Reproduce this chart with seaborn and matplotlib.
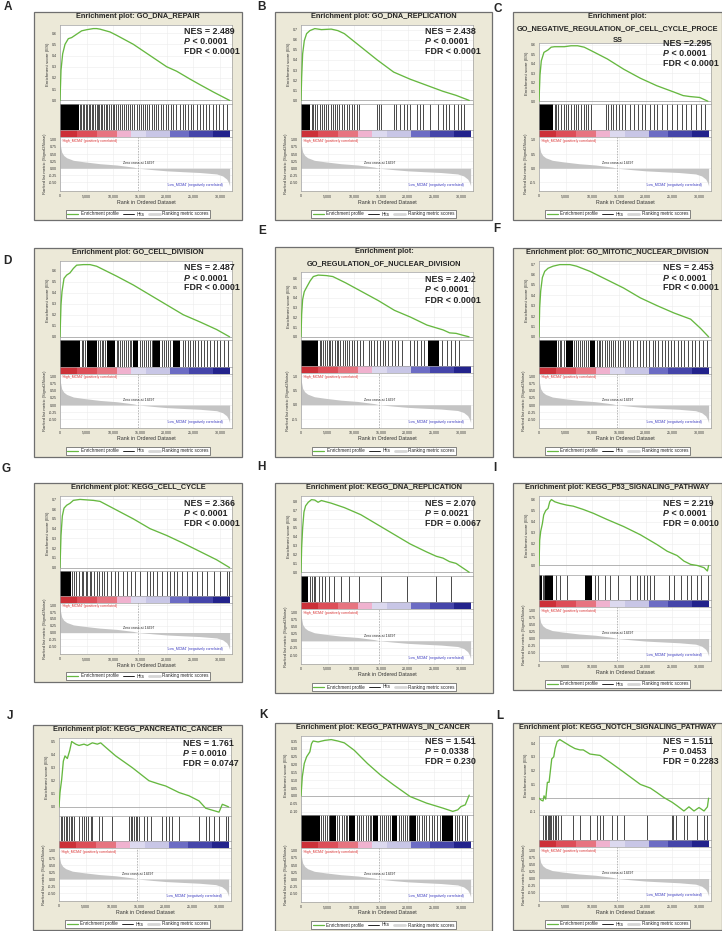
import numpy as np
import pandas as pd
import matplotlib
matplotlib.use("Agg")
import matplotlib.pyplot as plt
import seaborn as sns
from matplotlib.patches import Rectangle
from matplotlib.lines import Line2D

sns.set_style("white")
plt.rcParams["font.family"] = ["Liberation Sans", "DejaVu Sans"]

FW, FH = 722, 931
N_GENES = 31800
ZERO_CROSS = 14697
GENE = "MCM4"

# ranked list metric (shared by all panels)
metric_rank = [0, 80, 310, 700, 1250, 2500, 4375, 7500, 10625, 13750, 14697, 17500, 20000,
               23000, 26250, 29375, 30500, 31250, 31600, 31800]
metric_value = [1.0, 0.8, 0.57, 0.45, 0.37, 0.28, 0.23, 0.16, 0.115, 0.04, 0.0, -0.05, -0.09,
                -0.12, -0.15, -0.2, -0.27, -0.38, -0.5, -0.62]

x_ticks = [0, 5000, 10000, 15000, 20000, 25000, 30000]
x_tick_labels = ["0", "5,000", "10,000", "15,000", "20,000", "25,000", "30,000"]
legend_labels = ["Enrichment profile", "Hits", "Ranking metric scores"]

# ---------------- panel data ----------------
A_title = "Enrichment plot: GO_DNA_REPAIR"
A_nes, A_p, A_fdr = "NES = 2.489", "< 0.0001", "FDR < 0.0001"
A_es_rank = [0, 190, 500, 940, 1560, 2190, 3125, 4060, 5000, 6250, 6875, 7500, 9375, 10625, 13750,
             16875, 20000, 21875, 24375, 26250, 28750, 31800]
A_es = [0, 0.27, 0.415, 0.50, 0.55, 0.56, 0.59, 0.62, 0.63, 0.64, 0.64, 0.635, 0.61, 0.58, 0.50,
        0.40, 0.30, 0.26, 0.19, 0.14, 0.075, 0.0]
A_dense = [(0, 3500)]
A_hits = [3750, 3950, 4250, 4500, 4900, 5150, 5400, 5650, 5950, 6250, 6550, 6900, 7050, 7400, 7650,
          7900, 8250, 8650, 8900, 9250, 9550, 9900, 10200, 10500, 10950, 11250, 11650, 12000, 12400,
          12800, 13150, 13500, 13900, 14400, 14750, 15150, 15500, 16000, 16400, 16750, 17200, 17650,
          18000, 18450, 18900, 19400, 19800, 20300, 20750, 21250, 21750, 22500, 23000, 23450, 24050,
          24500, 25000, 25650, 26250, 26900, 27400, 28000, 28750, 29250, 29900, 30500, 31400]

B_title = "Enrichment plot: GO_DNA_REPLICATION"
B_nes, B_p, B_fdr = "NES = 2.438", "< 0.0001", "FDR < 0.0001"
B_es_rank = [0, 123, 308, 616, 1047, 1663, 2587, 3819, 5667, 6900, 8131, 11211, 14291, 17371, 20451,
             23531, 26611, 29075, 31539]
B_es = [0, 0.23, 0.46, 0.59, 0.66, 0.69, 0.71, 0.70, 0.705, 0.69, 0.66, 0.53, 0.40, 0.28, 0.21,
        0.15, 0.09, 0.05, 0.0]
B_dense = [(0, 1700)]
B_hits = [1970, 2280, 2710, 3080, 3510, 3940, 4310, 4740, 5050, 5540, 5980, 6410, 6780, 7210, 7640,
          8130, 8620, 9060, 9490, 9980, 10470, 10900, 14290, 14600, 15030, 17370, 17860, 18600, 19220,
          19840, 20450, 21680, 22300, 22920, 24150, 25690, 26610, 27230, 27840, 28770, 29380, 30000,
          30620]

C_title = "Enrichment plot:\nGO_NEGATIVE_REGULATION_OF_CELL_CYCLE_PROCE\nSS"
C_nes, C_p, C_fdr = "NES =2.295", "< 0.0001", "FDR < 0.0001"
C_es_rank = [0, 186, 433, 928, 1670, 2289, 2907, 4763, 6000, 7237, 8475, 9712, 12805, 15898, 18991,
             22084, 25177, 27033, 28270, 30126, 31672]
C_es = [0, 0.28, 0.43, 0.52, 0.545, 0.575, 0.58, 0.58, 0.59, 0.59, 0.575, 0.54, 0.45, 0.34, 0.245,
        0.165, 0.10, 0.06, 0.05, 0.04, 0.0]
C_dense = [(0, 2600)]
C_hits = [2910, 3280, 3650, 4140, 4640, 5070, 5510, 6000, 6500, 6930, 7360, 7860, 8350, 8780, 9220,
          9710, 12500, 12930, 13420, 13920, 14350, 14970, 15590, 16210, 17140, 17750, 18500, 19300,
          19920, 20720, 21470, 22080, 23010, 23940, 24870, 25800, 26720, 27650, 28580, 29510, 30440,
          31050]

D_title = "Enrichment plot: GO_CELL_DIVISION"
D_nes, D_p, D_fdr = "NES = 2.487", "< 0.0001", "FDR < 0.0001"
D_es_rank = [0, 188, 375, 750, 1250, 1875, 2500, 3125, 4375, 5625, 6875, 8125, 10625, 13750, 16875,
             20000, 23125, 26250, 29375, 31800]
D_es = [0, 0.29, 0.41, 0.53, 0.56, 0.58, 0.62, 0.65, 0.655, 0.655, 0.64, 0.61, 0.55, 0.47, 0.38,
        0.29, 0.20, 0.135, 0.066, 0.0]
D_dense = [(0, 3750), (5000, 6900), (8750, 10300), (13750, 14700), (17500, 18800), (21250, 22500)]
D_hits = [4100, 4400, 4700, 7200, 7500, 7800, 8100, 8400, 10600, 10900, 11250, 11600, 12000, 12300,
          12700, 13100, 13400, 15000, 15400, 15800, 16100, 16500, 16900, 17200, 19100, 19500, 19900,
          20300, 20700, 23000, 23500, 24000, 24400, 24900, 25400, 25900, 26500, 27000, 27600, 28100,
          28800, 29400, 30000, 30700, 31500]

E_title = "Enrichment plot:\nGO_REGULATION_OF_NUCLEAR_DIVISION"
E_nes, E_p, E_fdr = "NES = 2.402", "< 0.0001", "FDR < 0.0001"
E_es_rank = [0, 122, 304, 609, 1095, 1704, 2312, 3225, 4746, 5963, 8397, 11440, 14482, 17525, 20567,
             23610, 26652, 27869, 29086, 30400, 31500]
E_es = [0, 0.23, 0.38, 0.46, 0.51, 0.57, 0.615, 0.63, 0.625, 0.615, 0.55, 0.46, 0.37, 0.27, 0.20,
        0.12, 0.07, 0.04, 0.035, 0.015, 0.0]
E_dense = [(0, 3200), (23900, 25800)]
E_hits = [3500, 3800, 4100, 4500, 4800, 5200, 5500, 5900, 6300, 6700, 7000, 7400, 7800, 8200, 8600,
          9000, 9500, 10000, 10500, 11000, 11600, 12700, 13200, 13700, 14200, 14800, 15300, 15800,
          16400, 17000, 17600, 18200, 19000, 20500, 21200, 21800, 22500, 23100, 26500, 27400, 28200,
          28900, 29600]

F_title = "Enrichment plot: GO_MITOTIC_NUCLEAR_DIVISION"
F_nes, F_p, F_fdr = "NES = 2.453", "< 0.0001", "FDR < 0.0001"
F_es_rank = [0, 126, 315, 629, 1069, 1698, 2642, 3900, 5787, 7045, 9561, 12706, 15851, 18996, 22141,
             25286, 28431, 30318, 31800]
F_es = [0, 0.28, 0.44, 0.57, 0.63, 0.66, 0.68, 0.695, 0.695, 0.68, 0.63, 0.55, 0.47, 0.375, 0.30,
        0.23, 0.17, 0.08, 0.0]
F_dense = [(0, 3300), (5000, 6300), (9500, 10500)]
F_hits = [3600, 3900, 4200, 4600, 6600, 7000, 7300, 7700, 8100, 8500, 8900, 9200, 10800, 11200,
          11500, 11900, 12300, 12700, 13100, 13500, 13900, 14300, 14800, 15200, 15700, 16100, 16600,
          17100, 17700, 18300, 18900, 19500, 20100, 20700, 21300, 21800, 22400, 23000, 23600, 24200,
          24800, 25400, 26000, 26600, 27200, 27900, 28600, 29300, 30000, 30700, 31500]

G_title = "Enrichment plot: KEGG_CELL_CYCLE"
G_nes, G_p, G_fdr = "NES = 2.366", "< 0.0001", "FDR < 0.0001"
G_es_rank = [0, 188, 438, 750, 1250, 1875, 2500, 3750, 5000, 6250, 7500, 10625, 13750, 16875, 20000,
             23125, 26250, 29375, 31800]
G_es = [0, 0.33, 0.53, 0.61, 0.64, 0.66, 0.69, 0.70, 0.695, 0.69, 0.68, 0.59, 0.50, 0.40, 0.33,
        0.25, 0.165, 0.08, 0.0]
G_dense = [(0, 2000)]
G_hits = [2300, 2600, 3000, 3600, 4100, 4400, 4900, 5100, 5600, 5900, 6400, 6900, 7400, 7800, 8300,
          8900, 9500, 10300, 10900, 11800, 12500, 13400, 14100, 15000, 16300, 16900, 17400, 18100,
          19100, 20000, 20600, 21300, 21900, 22800, 23800, 24700, 25600, 26600, 27500, 28800, 30000,
          31300, 31700]

H_title = "Enrichment plot: KEGG_DNA_REPLICATION"
H_nes, H_p, H_fdr = "NES = 2.070", "= 0.0021", "FDR = 0.0067"
H_es_rank = [0, 123, 308, 554, 862, 1355, 1971, 2587, 3203, 3819, 4435, 5667, 8131, 11211, 14291,
             17371, 20451, 23531, 25379, 26611, 27843, 29075, 31539]
H_es = [0, 0.28, 0.50, 0.68, 0.75, 0.79, 0.82, 0.815, 0.79, 0.81, 0.80, 0.78, 0.73, 0.65, 0.54,
        0.43, 0.32, 0.23, 0.18, 0.16, 0.12, 0.10, 0.0]
H_dense = [(0, 1400)]
H_hits = [1725, 2156, 2400, 2710, 3326, 3942, 4435, 5174, 6160, 7515, 9055, 10903, 14907, 19835,
          25379, 28151]

I_title = "Enrichment plot: KEGG_P53_SIGNALING_PATHWAY"
I_nes, I_p, I_fdr = "NES = 2.219", "< 0.0001", "FDR = 0.0010"
I_es_rank = [0, 126, 315, 629, 881, 1258, 1698, 2013, 2327, 2956, 3900, 5158, 6416, 8303, 10190,
             12706, 15851, 18996, 22141, 24028, 25915, 27178, 28431, 29689, 30947, 31576, 31800]
I_es = [0, 0.23, 0.31, 0.38, 0.46, 0.50, 0.52, 0.58, 0.60, 0.58, 0.565, 0.55, 0.54, 0.51, 0.475,
        0.42, 0.355, 0.28, 0.19, 0.13, 0.09, 0.04, 0.01, 0.0, -0.02, -0.05, 0.0]
I_dense = [(0, 600), (1200, 2600), (8600, 9900)]
I_hits = [800, 1000, 3270, 3900, 5160, 10500, 11130, 12390, 13330, 14900, 17110, 18370, 19000,
          19620, 20250, 20880, 21510, 24340, 25290, 26540, 27800, 28430, 29690, 30320, 31700]

J_title = "Enrichment plot: KEGG_PANCREATIC_CANCER"
J_nes, J_p, J_fdr = "NES = 1.761", "= 0.0010", "FDR = 0.0747"
J_es_rank = [0, 188, 500, 813, 1125, 1563, 2000, 2375, 3125, 3750, 4688, 5313, 6250, 7188, 7813,
             8750, 10625, 13750, 16875, 18750, 20000, 22500, 24375, 26250, 27500, 28750, 30000,
             30625, 31250, 31800]
J_es = [0, 0.11, 0.21, 0.35, 0.39, 0.37, 0.43, 0.50, 0.48, 0.47, 0.48, 0.47, 0.49, 0.48, 0.49,
        0.456, 0.39, 0.30, 0.20, 0.175, 0.16, 0.11, 0.085, 0.046, -0.01, -0.025, -0.04, 0.02, 0.01,
        0.0]
J_dense = []
J_hits = [310, 630, 940, 1250, 1500, 1880, 2190, 2500, 2800, 3750, 4380, 4690, 5130, 5500, 5940,
          6250, 7500, 8130, 10000, 13130, 13440, 13750, 14060, 14380, 14690, 15000, 15940, 16560,
          17190, 19380, 20000, 20630, 21250, 22500, 26250, 27500, 28130, 29060, 30000, 31250, 31700]

K_title = "Enrichment plot: KEGG_PATHWAYS_IN_CANCER"
K_nes, K_p, K_fdr = "NES = 1.541", "= 0.0338", "FDR = 0.230"
K_es_rank = [0, 246, 616, 1047, 1663, 1971, 2279, 3203, 4435, 5667, 6900, 8131, 9979, 12443, 14907,
             17371, 20451, 23531, 26611, 28459, 29383, 29999, 30800, 31539]
K_es = [0, 0.122, 0.207, 0.249, 0.281, 0.333, 0.35, 0.344, 0.354, 0.359, 0.35, 0.338, 0.291, 0.207,
        0.133, 0.07, -0.004, -0.046, -0.078, -0.099, -0.089, -0.068, -0.057, 0.005]
K_dense = [(0, 3500), (5500, 6500), (9000, 10200), (13500, 14500), (17000, 18000), (20500, 21500),
           (26500, 28500)]
K_hits = [3800, 4100, 4500, 4900, 5200, 6800, 7200, 7600, 8000, 8400, 8700, 10500, 10900, 11300,
          11700, 12100, 12500, 12900, 13200, 14800, 15200, 15600, 16000, 16400, 16700, 18300, 18700,
          19100, 19500, 19900, 20200, 21800, 22200, 22700, 23100, 23500, 24000, 24500, 25000, 25500,
          26000, 28800, 29200, 29700, 30200, 30700, 31200]

L_title = "Enrichment plot: KEGG_NOTCH_SIGNALING_PATHWAY"
L_nes, L_p, L_fdr = "NES = 1.511", "= 0.0453", "FDR = 0.2283"
L_es_rank = [0, 440, 755, 944, 1258, 1573, 1887, 2139, 2390, 2768, 3019, 3397, 3900, 4529, 5787,
             6730, 7674, 8303, 9561, 11448, 13335, 15851, 18996, 20883, 22141, 23399, 24971, 25915,
             27173, 28116, 29060, 30003, 30947, 31576, 31800]
L_es = [0, -0.015, -0.02, 0.017, -0.007, 0.115, 0.115, 0.2, 0.285, 0.30, 0.36, 0.41, 0.425, 0.41,
        0.38, 0.36, 0.35, 0.35, 0.32, 0.31, 0.26, 0.19, 0.10, 0.073, 0.04, 0.005, -0.03, -0.056,
        -0.093, -0.063, -0.093, -0.068, -0.093, -0.063, 0.0]
L_dense = []
L_hits = [755, 1070, 1380, 1700, 1890, 2140, 2330, 2640, 2960, 3270, 3590, 4210, 6420, 7670, 9560,
          10820, 11450, 12080, 13650, 14590, 15850, 20250, 24970, 25160, 25600, 27170, 27800, 29690,
          30950, 31580]

# ---------------- styling / layout ----------------
BEIGE = "#ECE9D8"
GREEN = "#66B840"
CB_EDGES = [0, 3100, 6900, 10600, 13400, 16200, 20600, 24100, 28700, N_GENES]
CB_COLORS = ["#cc3038", "#dd4e58", "#e77480", "#f0b2cf", "#dcd9ef", "#c8c6e6", "#6c6cc4",
             "#4545aa", "#23238c"]
XMAX = 32250

panels = [
    dict(letter="A", lpos=(8, 7), box=(34, 12, 208, 208), title=A_title, stats=(A_nes, A_p, A_fdr),
         es_rank=A_es_rank, es=A_es, hits=A_hits, dense=A_dense, es_step=0.1, rk_step=0.25, nes_y=19),
    dict(letter="B", lpos=(261, 7), box=(275, 12, 217, 208), title=B_title, stats=(B_nes, B_p, B_fdr),
         es_rank=B_es_rank, es=B_es, hits=B_hits, dense=B_dense, es_step=0.1, rk_step=0.25, nes_y=19),
    dict(letter="C", lpos=(498, 9), box=(513, 12, 209, 208), title=C_title, stats=(C_nes, C_p, C_fdr),
         es_rank=C_es_rank, es=C_es, hits=C_hits, dense=C_dense, es_step=0.1, rk_step=0.5, nes_y=32),
    dict(letter="D", lpos=(7, 261), box=(34, 248, 208, 209), title=D_title, stats=(D_nes, D_p, D_fdr),
         es_rank=D_es_rank, es=D_es, hits=D_hits, dense=D_dense, es_step=0.1, rk_step=0.25, nes_y=20),
    dict(letter="E", lpos=(262, 231), box=(275, 247, 218, 210), title=E_title, stats=(E_nes, E_p, E_fdr),
         es_rank=E_es_rank, es=E_es, hits=E_hits, dense=E_dense, es_step=0.1, rk_step=0.5, nes_y=33),
    dict(letter="F", lpos=(497, 229), box=(513, 248, 209, 209), title=F_title, stats=(F_nes, F_p, F_fdr),
         es_rank=F_es_rank, es=F_es, hits=F_hits, dense=F_dense, es_step=0.1, rk_step=0.25, nes_y=20),
    dict(letter="G", lpos=(6, 469), box=(34, 483, 208, 199), title=G_title, stats=(G_nes, G_p, G_fdr),
         es_rank=G_es_rank, es=G_es, hits=G_hits, dense=G_dense, es_step=0.1, rk_step=0.25, nes_y=20),
    dict(letter="H", lpos=(261, 467), box=(275, 483, 218, 210), title=H_title, stats=(H_nes, H_p, H_fdr),
         es_rank=H_es_rank, es=H_es, hits=H_hits, dense=H_dense, es_step=0.1, rk_step=0.25, nes_y=20),
    dict(letter="I", lpos=(495, 468), box=(513, 483, 209, 207), title=I_title, stats=(I_nes, I_p, I_fdr),
         es_rank=I_es_rank, es=I_es, hits=I_hits, dense=I_dense, es_step=0.1, rk_step=0.25, nes_y=20),
    dict(letter="J", lpos=(10, 716), box=(33, 725, 209, 205), title=J_title, stats=(J_nes, J_p, J_fdr),
         es_rank=J_es_rank, es=J_es, hits=J_hits, dense=J_dense, es_step=0.1, rk_step=0.25, nes_y=18),
    dict(letter="K", lpos=(263, 715), box=(275, 723, 217, 208), title=K_title, stats=(K_nes, K_p, K_fdr),
         es_rank=K_es_rank, es=K_es, hits=K_hits, dense=K_dense, es_step=0.05, rk_step=0.25, nes_y=19),
    dict(letter="L", lpos=(500, 716), box=(513, 723, 209, 207), title=L_title, stats=(L_nes, L_p, L_fdr),
         es_rank=L_es_rank, es=L_es, hits=L_hits, dense=L_dense, es_step=0.1, rk_step=0.25, nes_y=19),
]

fig = plt.figure(figsize=(FW / 100, FH / 100), dpi=100)
fig.patch.set_facecolor("white")
ov = fig.add_axes([0, 0, 1, 1])
ov.set_axis_off()
ov.set_zorder(20)


def rect(x, y, w, h):
    return [x / FW, 1 - (y + h) / FH, w / FW, h / FH]


def fxy(x, y):
    return x / FW, 1 - y / FH


def style_axes(ax):
    for sp in ax.spines.values():
        sp.set_color("#a0a0a0")
        sp.set_linewidth(0.5)
    ax.set_facecolor("white")
    ax.tick_params(length=1.2, width=0.3, pad=1, labelsize=2.6, colors="#333333")


for p in panels:
    bx, by, bw, bh = p["box"]
    s = bh / 208.0
    fig.add_artist(Rectangle(fxy(bx, by + bh), bw / FW, bh / FH, transform=fig.transFigure,
                             facecolor=BEIGE, edgecolor="#6f6f6f", lw=0.9, zorder=-5))
    ov.text(*fxy(*p["lpos"]), p["letter"], fontsize=8.5, fontweight="bold", ha="center", va="center")
    tlines = p["title"].split("\n")
    for i, line in enumerate(tlines):
        ov.text(*fxy(bx + bw / 2, by + 4.5 + 12 * i), line, fontsize=5.35, fontweight="bold",
                ha="center", va="center")
    top = {1: 13, 2: 25, 3: 31}[len(tlines)]
    x0, pw = bx + 26, 172
    es_bot, hits_bot, cb_bot, rk_bot = 92 * s, 118 * s, 125 * s, 179 * s

    # --- ES curve
    ax = fig.add_axes(rect(x0, by + top, pw, es_bot - top))
    df = pd.DataFrame({"rank": p["es_rank"], "es": p["es"]})
    ax.axhline(0, color="#9a9a9a", lw=0.5, zorder=2)
    sns.lineplot(data=df, x="rank", y="es", ax=ax, color=GREEN, lw=0.95, zorder=3)
    lo, hi = min(0, min(p["es"])), max(p["es"])
    r = hi - lo
    y0, y1 = lo - 0.05 * r, hi + 0.05 * r
    ax.set_ylim(y0, y1)
    ax.set_xlim(0, XMAX)
    st = p["es_step"]
    ticks = [round(k * st, 3) for k in range(int(np.ceil(y0 / st - 1e-9)), int(np.floor(y1 / st + 1e-9)) + 1)]
    ax.set_yticks(ticks)
    fmt = "%.1f" if st >= 0.1 else "%.2f"
    ax.set_yticklabels([fmt % t for t in ticks])
    ax.set_xticks(x_ticks)
    ax.set_xticklabels([])
    ax.tick_params(axis="x", length=0)
    ax.grid(True, color="#ececec", lw=0.4)
    ax.set_xlabel("")
    ax.set_ylabel("Enrichment score (ES)", fontsize=3.2, labelpad=1.5, color="#333333")
    style_axes(ax)

    # --- hits
    axh = fig.add_axes(rect(x0, by + es_bot, pw, hits_bot - es_bot))
    axh.vlines(p["hits"], 0, 1, color="black", lw=0.5)
    for a, b in p["dense"]:
        axh.axvspan(a, b, color="black", lw=0)
    axh.set_xlim(0, XMAX)
    axh.set_ylim(0, 1)
    axh.set_xticks([])
    axh.set_yticks([])
    style_axes(axh)

    # --- colour bar
    axc = fig.add_axes(rect(x0, by + hits_bot, pw, cb_bot - hits_bot))
    for i, c in enumerate(CB_COLORS):
        axc.axvspan(CB_EDGES[i], CB_EDGES[i + 1], color=c, lw=0)
    axc.set_xlim(0, XMAX)
    axc.set_xticks([])
    axc.set_yticks([])
    style_axes(axc)

    # --- ranked list metric
    axr = fig.add_axes(rect(x0, by + cb_bot, pw, rk_bot - cb_bot))
    axr.fill_between(metric_rank, 0, metric_value, color="#c4c4c4", lw=0, zorder=2)
    axr.axvline(ZERO_CROSS, color="#8a8a8a", lw=0.4, ls=(0, (3, 2)), zorder=3)
    axr.set_xlim(0, XMAX)
    axr.set_ylim(-0.8, 1.1)
    rst = p["rk_step"]
    rt = [1.0 - k * rst for k in range(int(1.5 / rst) + 1)]
    axr.set_yticks(rt)
    rfmt = "%.2f" if rst < 0.5 else "%.1f"
    axr.set_yticklabels([rfmt % t for t in rt])
    axr.set_xticks(x_ticks)
    axr.set_xticklabels(x_tick_labels)
    axr.grid(True, color="#ececec", lw=0.4)
    axr.text(300, 0.97, "'High_%s' (positively correlated)" % GENE, color="#e03a3a",
             fontsize=2.5, ha="left", va="center", zorder=4)
    axr.text(ZERO_CROSS, 0.18, "Zero cross at %d" % ZERO_CROSS, color="#222222",
             fontsize=2.5, ha="center", va="center", zorder=4)
    axr.text(30500, -0.6, "'Low_%s' (negatively correlated)" % GENE, color="#3a3ac0",
             fontsize=2.5, ha="right", va="center", zorder=4)
    axr.set_ylabel("Ranked list metric (Signal2Noise)", fontsize=3.0, labelpad=1.5, color="#333333")
    style_axes(axr)
    ov.text(*fxy(x0 + pw / 2, by + rk_bot + 11), "Rank in Ordered Dataset", fontsize=3.8,
            ha="center", va="center", color="#333333")

    # --- legend
    handles = [Line2D([], [], color=GREEN, lw=0.9), Line2D([], [], color="black", lw=0.6),
               Line2D([], [], color="#d6d6d6", lw=2.0)]
    leg = fig.legend(handles, legend_labels, loc="center",
                     bbox_to_anchor=fxy(bx + bw / 2, by + bh - 6), bbox_transform=fig.transFigure,
                     ncol=3, fontsize=3.3, frameon=True, fancybox=False, edgecolor="#555555",
                     framealpha=1, borderpad=0.35, handlelength=2.4, handletextpad=0.5,
                     columnspacing=1.0, borderaxespad=0)
    leg.get_frame().set_linewidth(0.5)

    # --- statistics
    nes, pv, fdr = p["stats"]
    tx = bx + 150
    ty = by + p["nes_y"]
    ov.text(*fxy(tx, ty), nes, fontsize=6.4, fontweight="bold", ha="left", va="center")
    pt = ov.text(*fxy(tx, ty + 10), "P", fontsize=6.4, fontweight="bold", fontstyle="italic",
                 ha="left", va="center")
    ov.annotate(" " + pv, xy=(1, 0.5), xycoords=pt, fontsize=6.4, fontweight="bold",
                ha="left", va="center")
    ov.text(*fxy(tx, ty + 20), fdr, fontsize=6.4, fontweight="bold", ha="left", va="center")

fig.savefig("out.png", dpi=100, facecolor="white")
